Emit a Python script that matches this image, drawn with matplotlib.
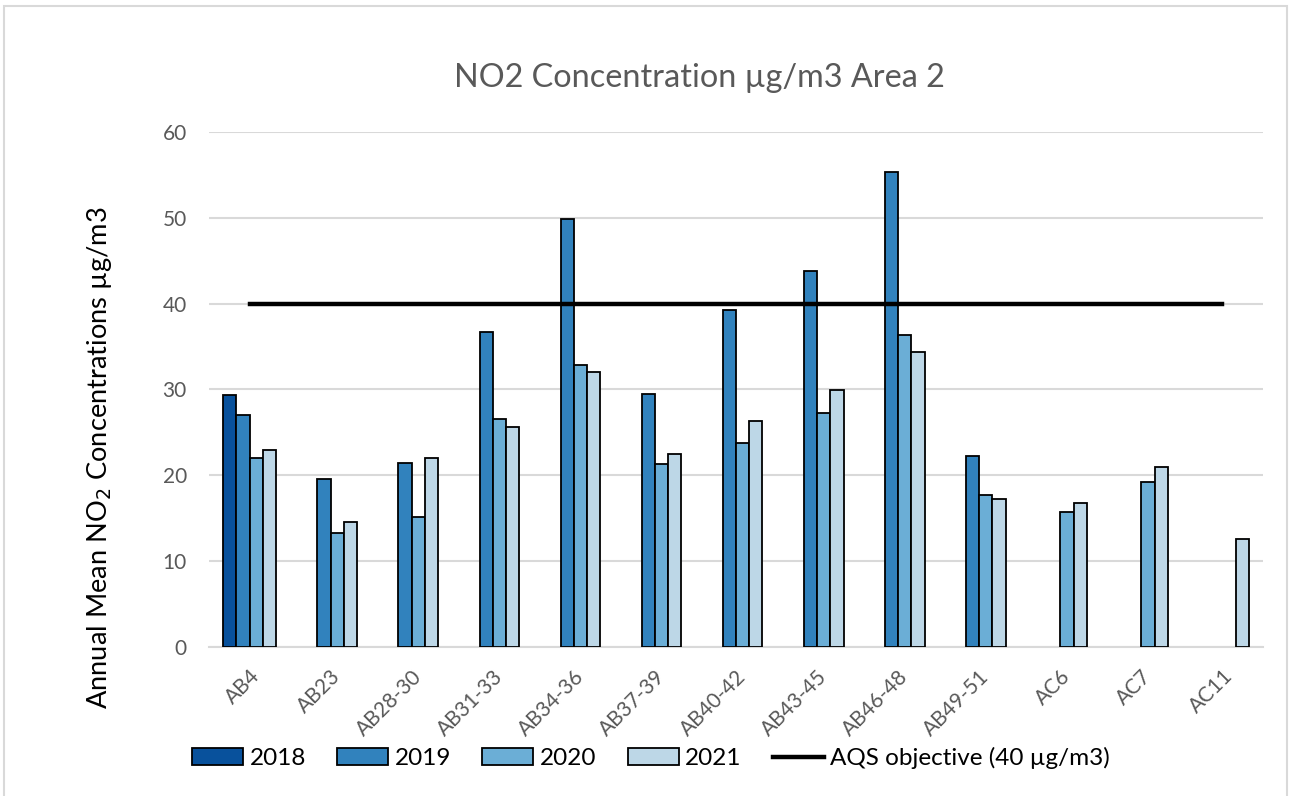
import matplotlib
matplotlib.use("Agg")
import matplotlib.pyplot as plt
import numpy as np
from matplotlib.patches import Rectangle

# 測定地点
sites = ["AB4", "AB23", "AB28-30", "AB31-33", "AB34-36", "AB37-39", "AB40-42",
         "AB43-45", "AB46-48", "AB49-51", "AC6", "AC7", "AC11"]

# 年別の年平均NO2濃度 (µg/m3)、欠測はNaN
no2_2018 = [29.3, np.nan, np.nan, np.nan, np.nan, np.nan, np.nan,
            np.nan, np.nan, np.nan, np.nan, np.nan, np.nan]
no2_2019 = [27.0, 19.5, 21.4, 36.7, 49.9, 29.4, 39.2,
            43.8, 55.3, 22.2, np.nan, np.nan, np.nan]
no2_2020 = [22.0, 13.2, 15.1, 26.6, 32.8, 21.3, 23.8,
            27.2, 36.3, 17.7, 15.7, 19.2, np.nan]
no2_2021 = [22.9, 14.5, 22.0, 25.6, 32.0, 22.5, 26.3,
            29.9, 34.4, 17.2, 16.7, 20.9, 12.6]
aqs_objective = [40] * len(sites)

years = ["2018", "2019", "2020", "2021"]
series = [no2_2018, no2_2019, no2_2020, no2_2021]
colors = ["#08519c", "#3182bd", "#6baed6", "#bdd7e7"]

plt.rcParams["font.family"] = ["Lato", "DejaVu Sans"]

fig = plt.figure(figsize=(12.89, 7.96), dpi=100)
ax = fig.add_axes([209/1289, 1 - 646.7/796, 1054/1289, 514.7/796])

x = np.arange(len(sites))
w = 0.163
handles = []
for k, (yr, vals, c) in enumerate(zip(years, series, colors)):
    b = ax.bar(x + (k - 1.5) * w, vals, width=w, color=c, edgecolor="black",
               linewidth=1.3, label=yr, zorder=3)
    handles.append(b)

line, = ax.plot(x, aqs_objective, color="black", lw=3.2, zorder=4,
                label="AQS objective (40 µg/m3)")
handles.append(line)

ax.set_xlim(-0.5, len(sites) - 0.5)
ax.set_ylim(0, 60)
ax.set_yticks(range(0, 61, 10))
ax.grid(axis="y", color="#d9d9d9", lw=1.5, zorder=0)
for s in ["top", "right", "left"]:
    ax.spines[s].set_visible(False)
ax.spines["bottom"].set_color("#d9d9d9")
ax.spines["bottom"].set_linewidth(1.5)
ax.tick_params(axis="both", length=0, labelsize=15, labelcolor="#595959")
ax.tick_params(axis="y", pad=16)
ax.set_xticks(x)
ax.set_xticklabels(sites, rotation=45, ha="right", rotation_mode="anchor")
ax.tick_params(axis="x", pad=14)

fig.text(100/1289, 1 - 458/796, "Annual Mean NO$_2$ Concentrations µg/m3",
         fontsize=19.6, color="black", rotation=90, ha="center", va="center")
fig.text(699/1289, 1 - 78/796, "NO2 Concentration µg/m3 Area 2",
         fontsize=23.3, color="#595959", ha="center", va="center")

fig.legend(handles=handles, loc="center", bbox_to_anchor=(651/1289, 1 - 758/796),
           ncol=5, frameon=False, fontsize=17.5, handlelength=2.1,
           handleheight=0.7, handletextpad=0.25, columnspacing=1.3)

# グラフ外枠
fig.patches.append(Rectangle((4/1289, -0.01), 1283/1289, 1 - 6/796 + 0.01,
                             transform=fig.transFigure, fill=False,
                             edgecolor="#d9d9d9", lw=1.5))

fig.savefig("out.png", dpi=100)
